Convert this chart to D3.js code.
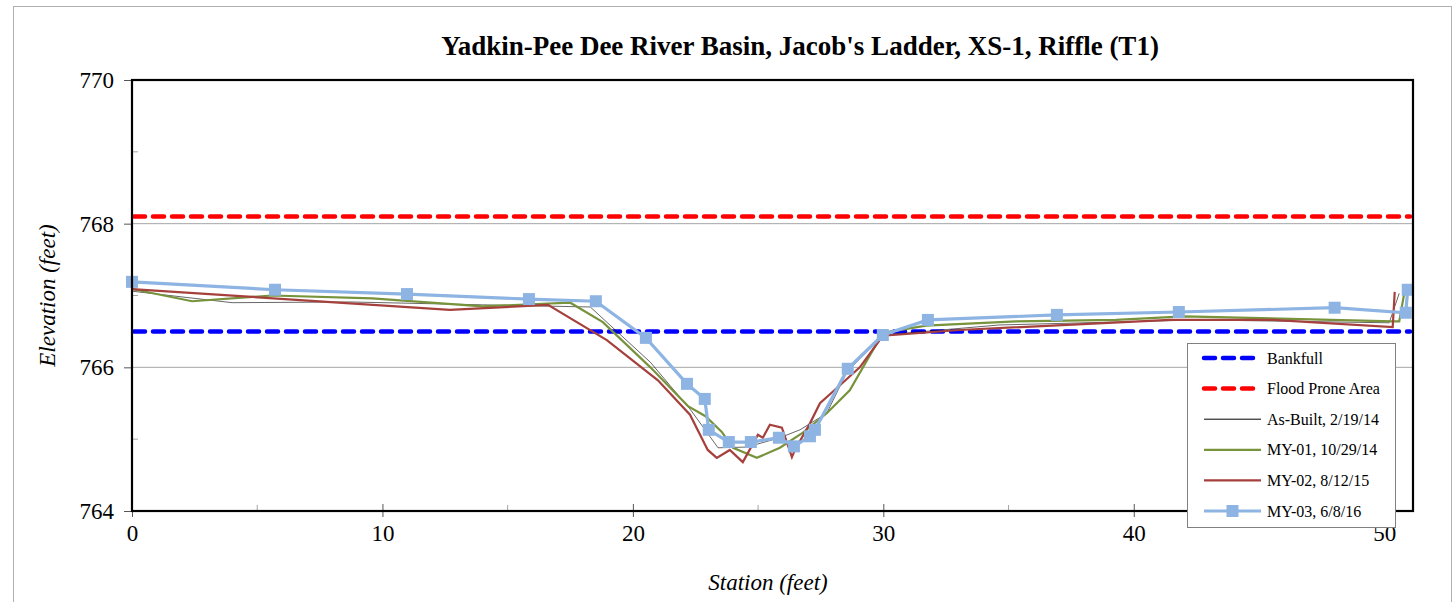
<!DOCTYPE html>
<html>
<head>
<meta charset="utf-8">
<script src="https://cdn.jsdelivr.net/npm/d3@7"></script>
<style>
  html, body { margin: 0; padding: 0; background: #fff; }
  svg { display: block; }
  text { font-family: "Liberation Serif", "Times New Roman", serif; }
</style>
</head>
<body>
<svg id="chart" width="1456" height="602"></svg>
<script>
// Cross-section survey data: station (ft) vs. elevation (ft)
const bankfullElev = 766.5;
const floodProneElev = 768.1;

const asBuiltStation = [0, 4.0, 8.7, 14.0, 18.3, 20.7, 22.3, 22.8, 23.4, 24.55, 25.87, 26.67, 27.74, 28.54, 29.98, 34.65, 42.6, 50.2, 50.6];
const asBuiltElev    = [767.06, 766.90, 766.91, 766.87, 766.84, 766.07, 765.41, 765.17, 764.88, 764.89, 765.02, 765.13, 765.36, 765.93, 766.45, 766.59, 766.66, 766.62, 767.03];

const my01Station = [0, 2.4, 5.6, 9.6, 14.0, 17.5, 18.8, 20.7, 22.2, 22.9, 23.55, 24.0, 24.95, 25.87, 26.79, 27.74, 28.66, 29.98, 31.7, 35.3, 39.3, 42.0, 50.34, 50.6, 50.8];
const my01Elev    = [767.09, 766.92, 767.0, 766.96, 766.85, 766.90, 766.63, 766.0, 765.46, 765.32, 765.10, 764.88, 764.74, 764.88, 765.09, 765.36, 765.68, 766.48, 766.58, 766.64, 766.66, 766.71, 766.64, 766.64, 767.03];

const my02Station = [0, 12.69, 16.61, 18.96, 21.0, 22.28, 22.99, 23.35, 23.87, 24.39, 24.99, 25.19, 25.47, 25.95, 26.35, 26.47, 27.07, 27.47, 27.98, 29.06, 29.98, 33.05, 41.44, 45.55, 50.34, 50.42];
const my02Elev    = [767.09, 766.80, 766.87, 766.38, 765.82, 765.34, 764.85, 764.74, 764.85, 764.68, 765.06, 765.02, 765.20, 765.16, 764.75, 764.85, 765.22, 765.50, 765.66, 766.00, 766.44, 766.52, 766.66, 766.66, 766.56, 767.05];

const my03Station = [0, 5.71, 10.98, 15.85, 18.52, 20.52, 22.16, 22.87, 23.03, 23.83, 24.71, 25.83, 26.43, 27.07, 27.27, 28.58, 29.98, 31.78, 36.93, 41.80, 48.02, 50.86, 50.94];
const my03Elev    = [767.19, 767.08, 767.02, 766.95, 766.92, 766.41, 765.77, 765.56, 765.13, 764.96, 764.96, 765.02, 764.90, 765.04, 765.13, 765.98, 766.45, 766.66, 766.73, 766.77, 766.83, 766.76, 767.08];

const xTicks = [0, 10, 20, 30, 40, 50];
const yTicks = [764, 766, 768, 770];
const xMinor = [5, 15, 25, 35, 45];
const yMinor = [765, 767, 769];

const titleText = "Yadkin-Pee Dee River Basin, Jacob's Ladder, XS-1, Riffle (T1)";
const xTitle = "Station (feet)";
const yTitle = "Elevation (feet)";
const legendLabels = ["Bankfull", "Flood Prone Area", "As-Built, 2/19/14", "MY-01, 10/29/14", "MY-02, 8/12/15", "MY-03, 6/8/16"];

const colors = {
  bankfull: "#0000FF",
  flood: "#FF0000",
  asBuilt: "#000000",
  my01: "#77933C",
  my02: "#A6403D",
  my03: "#8DB4E2"
};

const svg = d3.select("#chart");
const plot = { left: 132, top: 80, right: 1413, bottom: 511 };

const x = d3.scaleLinear().domain([0, 51.15]).range([plot.left, plot.right]);
const y = d3.scaleLinear().domain([764, 770]).range([plot.bottom, plot.top]);

// outer chart frame
svg.append("rect")
  .attr("x", 13.5).attr("y", 6.5).attr("width", 1438).attr("height", 620)
  .attr("fill", "#fff").attr("stroke", "#b0b0b0").attr("stroke-width", 1);

// title
svg.append("text")
  .attr("x", 800).attr("y", 55)
  .attr("text-anchor", "middle")
  .attr("font-size", 27).attr("font-weight", "bold")
  .text(titleText);

// horizontal gridlines
svg.append("g").selectAll("line").data(yTicks.filter(d => d > 764 && d < 770)).join("line")
  .attr("x1", plot.left).attr("x2", plot.right)
  .attr("y1", d => y(d)).attr("y2", d => y(d))
  .attr("stroke", "#a6a6a6").attr("stroke-width", 1);

// minor ticks inside the frame
svg.append("g").selectAll("line").data(yMinor).join("line")
  .attr("x1", plot.left).attr("x2", plot.left + 6)
  .attr("y1", d => y(d)).attr("y2", d => y(d))
  .attr("stroke", "#a6a6a6").attr("stroke-width", 1);
svg.append("g").selectAll("line").data(xMinor).join("line")
  .attr("x1", d => x(d)).attr("x2", d => x(d))
  .attr("y1", plot.bottom).attr("y2", plot.bottom - 6)
  .attr("stroke", "#a6a6a6").attr("stroke-width", 1);

// axes
const yAxis = d3.axisLeft(y).tickValues(yTicks).tickSize(8).tickPadding(10).tickFormat(d3.format("d"));
const gy = svg.append("g").attr("transform", `translate(${plot.left},0)`).call(yAxis);
gy.select(".domain").remove();
gy.selectAll(".tick line").attr("stroke", "#555");
gy.selectAll(".tick text").attr("font-size", 23).attr("fill", "#000")
  .attr("font-family", "Liberation Serif, serif");

const xAxis = d3.axisBottom(x).tickValues(xTicks).tickSize(6).tickPadding(8).tickFormat(d3.format("d"));
const gx = svg.append("g").attr("transform", `translate(0,${plot.bottom})`).call(xAxis);
gx.select(".domain").remove();
gx.selectAll(".tick line").attr("stroke", "#555").attr("y1", -7).attr("y2", 6);
gx.selectAll(".tick text").attr("font-size", 23).attr("fill", "#000")
  .attr("font-family", "Liberation Serif, serif");

// axis titles
svg.append("text")
  .attr("x", 768).attr("y", 590)
  .attr("text-anchor", "middle")
  .attr("font-size", 23).attr("font-style", "italic")
  .text(xTitle);
svg.append("text")
  .attr("transform", `translate(55,${(plot.top + plot.bottom) / 2}) rotate(-90)`)
  .attr("text-anchor", "middle")
  .attr("font-size", 23).attr("font-style", "italic")
  .text(yTitle);

// reference lines
const refLine = (elev, color) => svg.append("line")
  .attr("x1", x(0) + 2).attr("x2", plot.right - 3)
  .attr("y1", y(elev)).attr("y2", y(elev))
  .attr("stroke", color).attr("stroke-width", 4.5)
  .attr("stroke-dasharray", "11,8").attr("stroke-linecap", "round");
refLine(bankfullElev, colors.bankfull);
refLine(floodProneElev, colors.flood);

// survey lines
const line = d3.line().x(d => x(d[0])).y(d => y(d[1]));
const zip = (a, b) => a.map((v, i) => [v, b[i]]);

svg.append("path").datum(zip(asBuiltStation, asBuiltElev))
  .attr("d", line).attr("fill", "none").attr("stroke", colors.asBuilt).attr("stroke-width", 0.8).attr("stroke-opacity", 0.75);
svg.append("path").datum(zip(my01Station, my01Elev))
  .attr("d", line).attr("fill", "none").attr("stroke", colors.my01).attr("stroke-width", 2.2);
svg.append("path").datum(zip(my02Station, my02Elev))
  .attr("d", line).attr("fill", "none").attr("stroke", colors.my02).attr("stroke-width", 2.2);

const my03 = zip(my03Station, my03Elev);
svg.append("path").datum(my03)
  .attr("d", line).attr("fill", "none").attr("stroke", colors.my03).attr("stroke-width", 3.2);
svg.append("g").selectAll("rect").data(my03).join("rect")
  .attr("x", d => x(d[0]) - 6).attr("y", d => y(d[1]) - 6)
  .attr("width", 12).attr("height", 12).attr("fill", colors.my03);

// plot frame
svg.append("rect")
  .attr("x", plot.left).attr("y", plot.top)
  .attr("width", plot.right - plot.left).attr("height", plot.bottom - plot.top)
  .attr("fill", "none").attr("stroke", "#000").attr("stroke-width", 2.2);

// legend
const lg = svg.append("g").attr("transform", "translate(1187,343)");
lg.append("rect").attr("x", 0.5).attr("y", 0.5).attr("width", 208).attr("height", 184)
  .attr("fill", "#fff").attr("stroke", "#808080").attr("stroke-width", 1);
const rowY = i => 15 + i * 30.6;
const legendStyles = [
  { color: colors.bankfull, width: 4.5, dash: "11,8", cap: "round" },
  { color: colors.flood, width: 4.5, dash: "11,8", cap: "round" },
  { color: colors.asBuilt, width: 1, dash: null, cap: "butt" },
  { color: colors.my01, width: 2.2, dash: null, cap: "butt" },
  { color: colors.my02, width: 2.2, dash: null, cap: "butt" },
  { color: colors.my03, width: 3.2, dash: null, cap: "butt", marker: true }
];
legendLabels.forEach((label, i) => {
  const s = legendStyles[i];
  const l = lg.append("line")
    .attr("x1", 17).attr("x2", 74).attr("y1", rowY(i)).attr("y2", rowY(i))
    .attr("stroke", s.color).attr("stroke-width", s.width).attr("stroke-linecap", s.cap);
  if (s.dash) l.attr("stroke-dasharray", s.dash);
  if (s.marker) {
    lg.append("rect").attr("x", 45.5 - 6).attr("y", rowY(i) - 6)
      .attr("width", 12).attr("height", 12).attr("fill", s.color);
  }
  lg.append("text")
    .attr("x", 80).attr("y", rowY(i) + 5.5)
    .attr("font-size", 16)
    .text(label);
});
</script>
</body>
</html>
